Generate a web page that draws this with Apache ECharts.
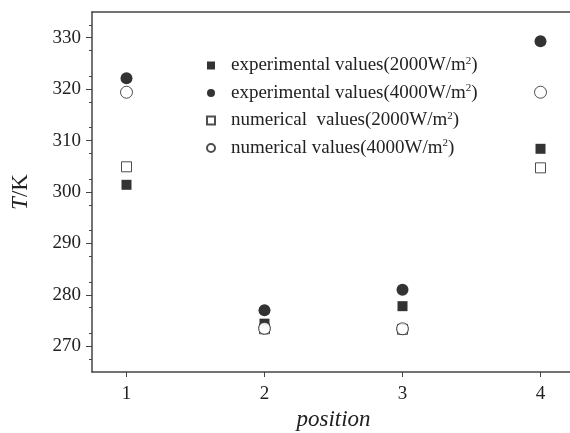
<!DOCTYPE html>
<html style="height: 100%">
<head>
<meta charset="utf-8">
</head>
<body style="height: 100%; margin: 0; background: #fff">
<div id="container" style="width: 570px; height: 433px"></div>
<script type="text/javascript" src="https://cdn.jsdelivr.net/npm/echarts@6/dist/echarts.min.js"></script>
<script type="text/javascript">
var positions = [1, 2, 3, 4];
var exp2000 = [301.4, 274.4, 277.8, 308.4];
var exp4000 = [322.1, 277.0, 281.0, 329.3];
var num2000 = [304.9, 273.4, 273.3, 304.7];
var num4000 = [319.4, 273.5, 273.4, 319.4];
var seriesNames = [
    'experimental values(2000W/m{s|2})',
    'experimental values(4000W/m{s|2})',
    'numerical  values(2000W/m{s|2})',
    'numerical values(4000W/m{s|2})'
];

var font = 'Liberation Serif';
var dom = document.getElementById('container');
var myChart = echarts.init(dom);

function pts(vals) {
    return positions.map(function (p, i) { return [p, vals[i]]; });
}

function mk(name, vals, symbol, filled) {
    return {
        name: name,
        type: 'scatter',
        symbol: symbol,
        symbolSize: symbol === 'rect' ? 10 : 12,
        data: pts(vals),
        itemStyle: filled
            ? { color: '#000' }
            : { color: '#fff', borderColor: '#222', borderWidth: 1 },
        z: filled ? 2 : 3
    };
}

var option = {
    animation: false,
    textStyle: { fontFamily: font },
    grid: { left: 92, right: -5, top: 12, bottom: 61, outerBoundsMode: 'none', containLabel: false },
    legend: {
        orient: 'vertical',
        left: 201,
        top: 50.5,
        itemWidth: 8,
        itemHeight: 8,
        itemGap: 7.5,
        textStyle: {
            fontFamily: font, fontSize: 19, color: '#222', lineHeight: 20,
            padding: [0, 0, 0, 11],
            rich: { s: { fontSize: 11, verticalAlign: 'top', lineHeight: 20, padding: [0, 0, 9, 0], color: '#222', fontFamily: font } }
        },
        data: seriesNames
    },
    xAxis: [{
        type: 'value',
        min: 0.75,
        max: 4.25,
        interval: 1,
        name: 'position',
        nameLocation: 'middle',
        nameGap: 34,
        nameTextStyle: { fontFamily: font, fontSize: 23, fontStyle: 'italic', color: '#222' },
        axisLine: { show: true, lineStyle: { color: '#444', width: 1.5 } },
        axisTick: { show: true, length: 5, lineStyle: { color: '#444' }, customValues: [1, 2, 3, 4] },
        axisLabel: { fontSize: 19, color: '#222', margin: 13, customValues: [1, 2, 3, 4] },
        splitLine: { show: false }
    }, {
        type: 'value',
        position: 'top',
        min: 0.75,
        max: 4.25,
        axisLine: { show: true, onZero: false, lineStyle: { color: '#444', width: 1.5 } },
        axisTick: { show: false },
        axisLabel: { show: false },
        splitLine: { show: false }
    }],
    yAxis: {
        type: 'value',
        min: 265,
        max: 335,
        interval: 5,
        name: '{i|T}/K',
        nameLocation: 'middle',
        nameGap: 60,
        nameRotate: 90,
        nameTextStyle: {
            fontFamily: font, fontSize: 23, color: '#222',
            rich: { i: { fontStyle: 'italic', fontSize: 23, fontFamily: font, color: '#222' } }
        },
        axisLine: { show: true, onZero: false, lineStyle: { color: '#444', width: 1.5 } },
        axisTick: { show: true, length: 6, lineStyle: { color: '#444' }, customValues: [270, 280, 290, 300, 310, 320, 330] },
        minorTick: { show: true, splitNumber: 2, length: 3, lineStyle: { color: '#444' } },
        axisLabel: { fontSize: 19, color: '#222', margin: 11, customValues: [270, 280, 290, 300, 310, 320, 330] },
        splitLine: { show: false }
    },
    series: [
        mk(seriesNames[0], exp2000, 'rect', true),
        mk(seriesNames[1], exp4000, 'circle', true),
        mk(seriesNames[2], num2000, 'rect', false),
        mk(seriesNames[3], num4000, 'circle', false)
    ]
};

myChart.setOption(option, true);
</script>
</body>
</html>
